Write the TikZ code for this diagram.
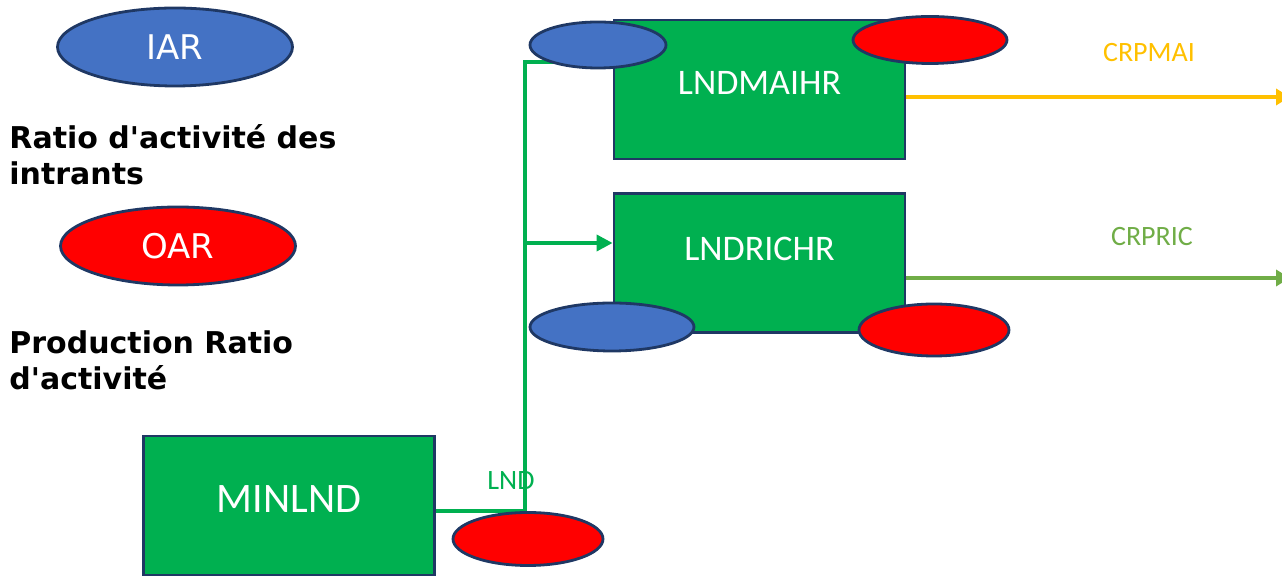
\documentclass[tikz,border=0pt]{standalone}
\usepackage{fontspec}
\setmainfont{Carlito}
\newfontfamily\dejavu{DejaVu Sans}
\usetikzlibrary{shapes.geometric,arrows.meta}
\definecolor{gfill}{HTML}{00B050}
\definecolor{navy}{HTML}{1F3864}
\definecolor{bfill}{HTML}{4472C4}
\definecolor{rfill}{HTML}{FF0000}
\definecolor{yline}{HTML}{FFC000}
\definecolor{lgreen}{HTML}{70AD47}
\tikzset{
  procbox/.style={draw=navy, line width=1.4pt, fill=gfill, text=white, minimum width=291*0.5pt, minimum height=139*0.5pt, inner sep=0pt},
  iar/.style={ellipse, draw=navy, line width=1.4pt, fill=bfill, inner sep=0pt, text=white},
  oar/.style={ellipse, draw=navy, line width=1.4pt, fill=rfill, inner sep=0pt, text=white},
  gline/.style={draw=gfill, line width=1.8pt},
  legend/.style={anchor=north west, align=left, font=\dejavu\bfseries\fontsize{15pt}{18pt}\selectfont, inner sep=0pt},
}
\begin{document}
\begin{tikzpicture}[x=0.5pt,y=-0.5pt]
\useasboundingbox (0,0) rectangle (1282,576);
% legend
\node[iar, minimum width=235*0.5pt, minimum height=78*0.5pt, font=\dejavu\fontsize{17pt}{18pt}\selectfont] (iarL) at (175,47) {IAR};
\node[legend] (txt1) at (9,124) {Ratio d'activité des\\intrants};
\node[oar, minimum width=235*0.5pt, minimum height=78*0.5pt, font=\dejavu\fontsize{17pt}{18pt}\selectfont] (oarL) at (178,246) {OAR};
\node[legend] (txt2) at (9,330) {Production Ratio\\d'activité};
% coordinates
\coordinate (j) at (525,511);
\coordinate (jt) at (525,62);
\coordinate (tend) at (560,62);
\coordinate (jb) at (525,243);
\coordinate (o1) at (1290,97);
\coordinate (o2) at (1290,278);
% boxes
\node[procbox, font=\fontsize{21pt}{22pt}\selectfont, text depth=0pt] (minlnd) at (289,505.5) {\raisebox{6pt}{MINLND}};
\node[procbox, font=\fontsize{18pt}{20pt}\selectfont] (mai) at (759.5,89.5) {\raisebox{7pt}{LNDMAIHR}};
\node[procbox, font=\fontsize{18pt}{20pt}\selectfont] (ric) at (759.5,263) {\raisebox{14pt}{LNDRICHR}};
% green connector
\draw[gline] (minlnd.east |- j) -- (j) -- (jt) -- (tend);
\draw[gline, -{Triangle[length=8pt,width=8pt]}] (jb) -- (ric.west |- jb);
\node[text=gfill, font=\fontsize{14pt}{15pt}\selectfont] (lndlab) at (511,481) {LND};
% output arrows
\draw[draw=yline, line width=1.8pt, -{Triangle[length=7pt,width=8pt]}] (mai.east |- o1) -- (o1);
\node[text=yline, font=\fontsize{14pt}{16pt}\selectfont] (crpmai) at (1149,53) {CRPMAI};
\draw[draw=lgreen, line width=1.8pt, -{Triangle[length=7pt,width=8pt]}] (ric.east |- o2) -- (o2);
\node[text=lgreen, font=\fontsize{14pt}{16pt}\selectfont] (crpric) at (1152,237) {CRPRIC};
% ratio ellipses
\node[iar, minimum width=136*0.5pt, minimum height=46*0.5pt] (maiI) at (598,45) {};
\node[oar, minimum width=154*0.5pt, minimum height=47*0.5pt] (maiO) at (930,40) {};
\node[iar, minimum width=164*0.5pt, minimum height=48*0.5pt] (ricI) at (612,327) {};
\node[oar, minimum width=150*0.5pt, minimum height=52*0.5pt] (ricO) at (934,330) {};
\node[oar, minimum width=150*0.5pt, minimum height=53*0.5pt] (minO) at (528,539) {};
\end{tikzpicture}
\end{document}
